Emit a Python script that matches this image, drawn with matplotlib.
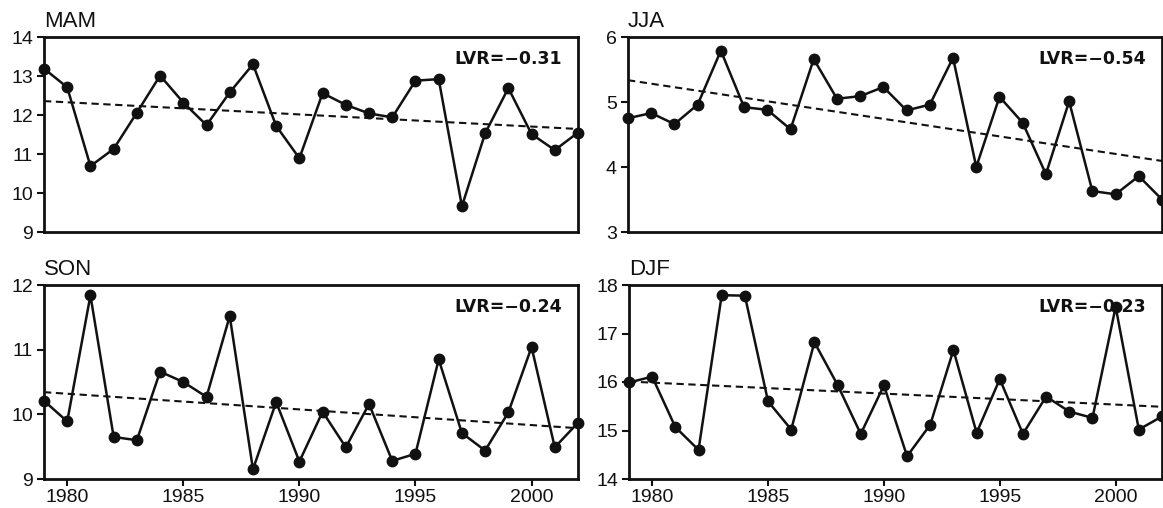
import matplotlib as mpl

mpl.use("Agg")

import matplotlib.pyplot as plt
import numpy as np

YEARS = np.arange(1979, 2003)

MAM = [13.19, 12.71, 10.69, 11.13, 12.06, 13.01, 12.32, 11.74, 12.58, 13.30, 11.72, 10.89,
       12.56, 12.26, 12.04, 11.94, 12.88, 12.92, 9.66, 11.53, 12.69, 11.51, 11.10, 11.55]
JJA = [4.75, 4.83, 4.66, 4.96, 5.79, 4.92, 4.88, 4.58, 5.66, 5.05, 5.09, 5.23,
       4.87, 4.96, 5.68, 4.00, 5.08, 4.68, 3.89, 5.01, 3.63, 3.58, 3.86, 3.50]
SON = [10.21, 9.89, 11.84, 9.65, 9.60, 10.66, 10.50, 10.27, 11.52, 9.15, 10.19, 9.27,
       10.04, 9.49, 10.16, 9.28, 9.39, 10.85, 9.71, 9.44, 10.03, 11.04, 9.49, 9.87]
DJF = [15.99, 16.11, 15.07, 14.60, 17.79, 17.78, 15.60, 15.02, 16.82, 15.94, 14.93, 15.93,
       14.47, 15.12, 16.66, 14.95, 16.06, 14.93, 15.70, 15.39, 15.26, 17.55, 15.02, 15.29]

SEASONS = ["MAM", "JJA", "SON", "DJF"]
SERIES = [MAM, JJA, SON, DJF]
LVR = ["-0.31", "-0.54", "-0.24", "-0.23"]
YLIMS = [(9, 14), (3, 6), (9, 12), (14, 18)]

W, H = 1163, 508
# panel boxes in pixels: left, right, top, bottom
BOXES = [(44, 578, 37, 232), (628, 1162, 37, 232),
         (44, 578, 285, 479), (629, 1162, 285, 479)]

INK = "#111111"
plt.rcParams["font.family"] = ["Liberation Sans Narrow", "Liberation Sans", "DejaVu Sans"]

fig = plt.figure(figsize=(W / 100, H / 100), dpi=100)

for i, (name, vals, lvr, ylim, box) in enumerate(zip(SEASONS, SERIES, LVR, YLIMS, BOXES)):
    l, r, t, b = box
    ax = fig.add_axes([l / W, 1 - b / H, (r - l) / W, (b - t) / H])
    vals = np.asarray(vals)
    ax.plot(YEARS, vals, color=INK, lw=1.8, marker="o", ms=7.5,
            mfc=INK, mec=INK, clip_on=False, zorder=3)
    k, c = np.polyfit(YEARS, vals, 1)
    xs = np.array([YEARS[0], YEARS[-1]])
    ax.plot(xs, k * xs + c, color=INK, lw=1.5, ls=(0, (3.5, 2.2)), zorder=2)
    ax.set_xlim(1979, 2002)
    ax.set_ylim(*ylim)
    ax.set_yticks(np.arange(ylim[0], ylim[1] + 1))
    for s in ax.spines.values():
        s.set_linewidth(2.0)
        s.set_color(INK)
    ax.tick_params(axis="y", direction="out", length=5, width=1.5, pad=3,
                   labelsize=14, colors=INK)
    if i >= 2:
        ax.set_xticks([1980, 1985, 1990, 1995, 2000])
        ax.tick_params(axis="x", direction="out", length=5, width=1.5, pad=2,
                       labelsize=14, colors=INK)
    else:
        ax.set_xticks([])
    ax.text(0.0, 1.025, name, transform=ax.transAxes, ha="left", va="bottom",
            fontsize=16, color=INK)
    ax.text(0.97, 0.84, "LVR=\u2212" + lvr[1:], transform=ax.transAxes, ha="right",
            va="bottom", fontsize=12.5, weight="bold", color=INK,
            family=["DejaVu Sans"], zorder=1)

fig.savefig("out.png", dpi=100, facecolor="white")
